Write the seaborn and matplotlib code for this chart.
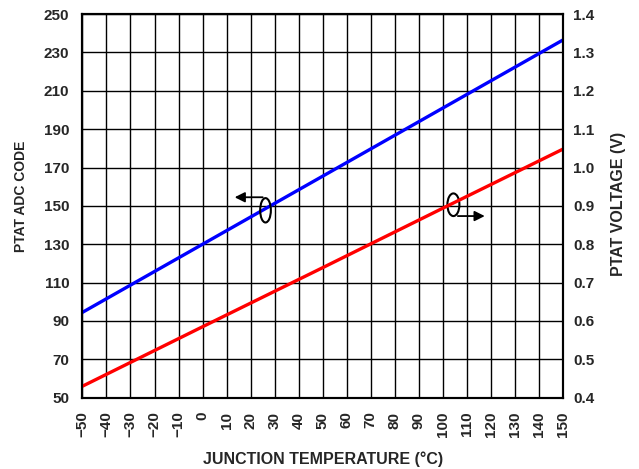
import seaborn as sns
import matplotlib.pyplot as plt
from matplotlib.patches import Ellipse
import pandas as pd

# values
temps = [-50, 0, 50, 100, 150]
adc_code = [94.5, 130.0, 165.5, 201.0, 236.5]
ptat_volts = [0.430, 0.585, 0.739, 0.894, 1.048]

x_ticks = list(range(-50, 151, 10))
left_ticks = list(range(50, 251, 20))
right_ticks = [0.4, 0.5, 0.6, 0.7, 0.8, 0.9, 1.0, 1.1, 1.2, 1.3, 1.4]

df = pd.DataFrame({"temp": temps, "adc": adc_code, "volts": ptat_volts})

sns.set_style("white")
plt.rcParams['font.family'] = ['Liberation Sans', 'DejaVu Sans']
plt.rcParams['font.weight'] = 'bold'

fig = plt.figure(figsize=(6.39, 4.69), dpi=100)
ax = fig.add_axes([0.129, 0.152, 0.752, 0.818])
ax2 = ax.twinx()

sns.lineplot(data=df, x="temp", y="adc", ax=ax, color="#0000ff", lw=2.4)
sns.lineplot(data=df, x="temp", y="volts", ax=ax2, color="#ff0000", lw=2.4)

ax.set_xlim(-50, 150)
ax.set_ylim(50, 250)
ax2.set_ylim(0.4, 1.4)
ax.set_xticks(x_ticks)
ax.set_yticks(left_ticks)
ax2.set_yticks(right_ticks)
ax.set_xticklabels([str(t).replace("-", "\u2212") for t in x_ticks], rotation=90,
                   fontsize=11, fontweight='bold')
ax.set_yticklabels([str(t) for t in left_ticks], fontsize=11, fontweight='bold')
ax2.set_yticklabels([f"{t:.1f}" for t in right_ticks], fontsize=11, fontweight='bold')
ax.tick_params(axis='y', length=0, pad=9.5)
ax.tick_params(axis='x', length=0, pad=10)
ax2.tick_params(length=0, pad=7.5)

ax.grid(True, color="black", lw=1.0)
ax.set_axisbelow(True)
for a in (ax, ax2):
    for s in a.spines.values():
        s.set_color("black")
        s.set_linewidth(1.5)

ax.set_xlabel("JUNCTION TEMPERATURE (°C)", fontsize=11.5, fontweight='bold')
ax.set_ylabel("PTAT ADC CODE", fontsize=10, fontweight='bold')
ax2.set_ylabel("PTAT VOLTAGE (V)", fontsize=11.5, fontweight='bold')
ax.xaxis.set_label_coords(0.5, -0.140)
ax.yaxis.set_label_coords(-0.113, 0.526)
ax2.yaxis.set_label_coords(1.1, 0.505)

# series markers: ellipse + arrow
ax.add_patch(Ellipse((26.2, 147.7), 4.45, 12.7, fill=False, ec="black", lw=1.5, zorder=5))
ax.annotate("", xy=(12.2, 154.5), xytext=(26.2, 154.5),
            arrowprops=dict(arrowstyle="-|>", color="black", lw=1.3, mutation_scale=15),
            zorder=5)
ax.add_patch(Ellipse((104.4, 150.6), 5.0, 11.8, fill=False, ec="black", lw=1.5, zorder=5))
ax.annotate("", xy=(118.6, 144.7), xytext=(105.1, 144.7),
            arrowprops=dict(arrowstyle="-|>", color="black", lw=1.3, mutation_scale=15),
            zorder=5)

fig.savefig("out.png", dpi=100)
